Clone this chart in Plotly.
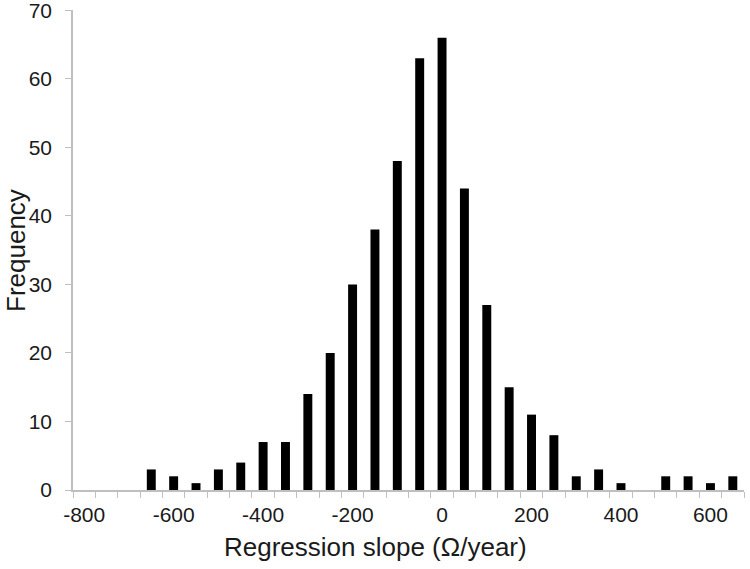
import plotly.graph_objects as go

# bin centres (Ω/year) and counts
slope_bins = [-800, -750, -700, -650, -600, -550, -500, -450, -400, -350,
              -300, -250, -200, -150, -100, -50, 0, 50, 100, 150,
              200, 250, 300, 350, 400, 450, 500, 550, 600, 650]
frequency = [0, 0, 0, 3, 2, 1, 3, 4, 7, 7,
             14, 20, 30, 38, 48, 63, 66, 44, 27, 15,
             11, 8, 2, 3, 1, 0, 2, 2, 1, 2]
tick_labels = [-800, -600, -400, -200, 0, 200, 400, 600]

AXIS = '#bfbfbf'
FONT = dict(family='Liberation Sans, Arial, sans-serif', color='#1a1a1a')
L, R, T, B = 73, 6, 10, 79
W, H = 750, 569
PW = W - L - R

fig = go.Figure(go.Bar(
    x=slope_bins, y=frequency, width=20,
    marker=dict(color='black', line=dict(width=0)),
))

fig.update_layout(
    width=W, height=H,
    margin=dict(l=L, r=R, t=T, b=B),
    paper_bgcolor='white', plot_bgcolor='white',
    font=dict(**FONT, size=21),
    showlegend=False,
)
fig.update_xaxes(
    range=[-825, 675], automargin=False,
    tickvals=tick_labels, ticktext=[str(v) for v in tick_labels],
    ticks='', showgrid=False, zeroline=False,
    showline=True, linecolor=AXIS, linewidth=1.5,
    minor=dict(ticks='outside', tick0=-825, dtick=50, ticklen=6,
               tickcolor=AXIS, tickwidth=1.2, showgrid=False),
    tickfont=dict(size=21), ticklabelstandoff=5, ticklabeloverflow='allow',
)
fig.update_yaxes(
    range=[0, 70.05], tickvals=[0, 10, 20, 30, 40, 50, 60, 70], automargin=False,
    ticks='outside', ticklen=6, tickcolor=AXIS, tickwidth=1.2,
    showgrid=False, zeroline=False,
    showline=True, linecolor=AXIS, linewidth=1.5,
    tickfont=dict(size=21), ticklabelstandoff=9, ticklabeloverflow='allow',
)

# axis titles placed as in the original (x title centred on the page)
fig.add_annotation(text='Regression slope (Ω/year)', font=dict(size=26),
                   xref='paper', yref='paper', showarrow=False,
                   x=(375 - L) / PW, y=-(547 - (H - B)) / (H - T - B),
                   xanchor='center', yanchor='middle')
fig.add_annotation(text='Frequency', font=dict(size=26), textangle=-90,
                   xref='paper', yref='paper', showarrow=False,
                   x=(16 - L) / PW, y=0.5,
                   xanchor='center', yanchor='middle')

# drop the browser's default 8px body margin so the figure sits at (0, 0)
fig.write_html("out.html", config={'displayModeBar': False},
               post_script="document.body.style.margin='0';")
